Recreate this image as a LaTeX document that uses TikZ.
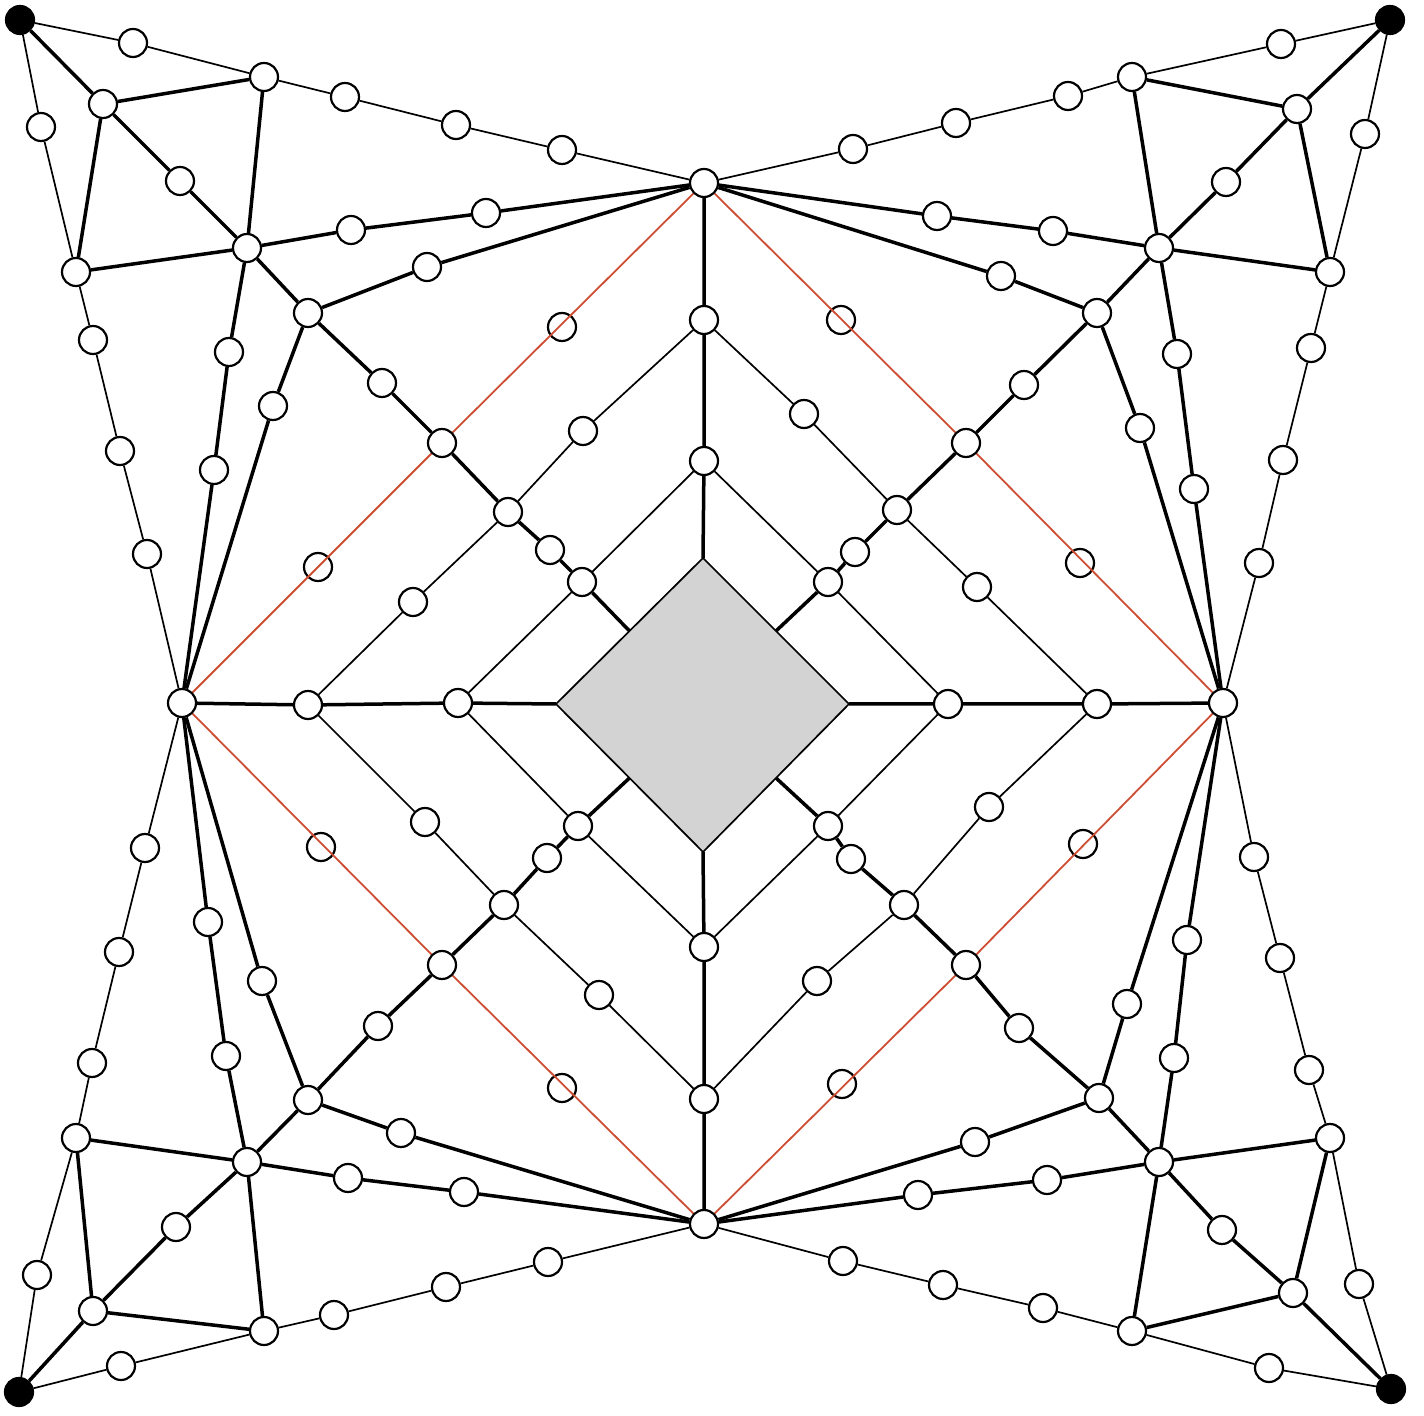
\documentclass[tikz,border=0pt]{standalone}
\usetikzlibrary{calc}
\definecolor{redline}{RGB}{205,78,50}
\definecolor{diamondgray}{RGB}{211,211,211}
\begin{document}
\begin{tikzpicture}[x=0.5pt,y=-0.5pt,
  v/.style={circle,draw=black,fill=white,line width=1.1pt,minimum size=14pt,inner sep=0pt},
  cv/.style={circle,draw=black,fill=black,line width=1.1pt,minimum size=14pt,inner sep=0pt},
  thinedge/.style={line width=0.85pt},
  thickedge/.style={line width=1.75pt},
  rededge/.style={draw=redline,line width=0.9pt}]
\useasboundingbox (0,0) rectangle (1424,1416);

% central diamond
\coordinate (dT) at (703,558);
\coordinate (dR) at (849,704);
\coordinate (dB) at (703,852);
\coordinate (dL) at (556,704);
\coordinate (Mtl) at ($(dL)!0.5!(dT)$);
\coordinate (Mtr) at ($(dT)!0.5!(dR)$);
\coordinate (Mbl) at ($(dL)!0.5!(dB)$);
\coordinate (Mbr) at ($(dB)!0.5!(dR)$);
\filldraw[fill=diamondgray,draw=black,thinedge] (dT) -- (dR) -- (dB) -- (dL) -- cycle;

% axis nodes
\node[v] (T) at (704,183) {};
\node[v] (Bot) at (704,1224) {};
\node[v] (L) at (182,703) {};
\node[v] (R) at (1223,703) {};
\node[v] (vt1) at (704,320) {};
\node[v] (vt2) at (704,461) {};
\node[v] (vb2) at (704,947) {};
\node[v] (vb1) at (704,1099) {};
\node[v] (hl1) at (308,705) {};
\node[v] (hl2) at (458,703) {};
\node[v] (hr2) at (948,704) {};
\node[v] (hr1) at (1097,704) {};

% top-left
\node[cv] (Ctl) at (20,20) {};
\node[v] (a1tl) at (133,43) {};
\node[v] (Atl) at (264,77) {};
\node[v] (Btl) at (103,104) {};
\node[v] (Dtl) at (41,127) {};
\node[v] (Etl) at (76,272) {};
\node[v] (Ftl) at (247,248) {};
\node[v] (Gtl) at (308,313) {};
\node[v] (d1tl) at (180,181) {};
\node[v] (t1tl) at (345,97) {};
\node[v] (t2tl) at (456,125) {};
\node[v] (t3tl) at (562,150) {};
\node[v] (f1tl) at (351,230) {};
\node[v] (f2tl) at (486,213) {};
\node[v] (g1tl) at (427,267) {};
\node[v] (e1tl) at (93,340) {};
\node[v] (e2tl) at (120,451) {};
\node[v] (e3tl) at (147,554) {};
\node[v] (h1tl) at (229,352) {};
\node[v] (h2tl) at (214,470) {};
\node[v] (k1tl) at (273,406) {};
\node[v] (q1tl) at (382,383) {};
\node[v] (Xtl) at (442,443) {};
\node[v] (Ytl) at (508,512) {};
\node[v] (q2tl) at (550,550) {};
\node[v] (Ztl) at (582,582) {};
\node[v] (rHtl) at (318,567) {};
\node[v] (rVtl) at (562,327) {};
\node[v] (oHtl) at (413,602) {};
\node[v] (oVtl) at (583,431) {};

% top-right
\node[cv] (Ctr) at (1390,20) {};
\node[v] (a1tr) at (1281,44) {};
\node[v] (Atr) at (1132,77) {};
\node[v] (Btr) at (1297,109) {};
\node[v] (Dtr) at (1365,134) {};
\node[v] (Etr) at (1330,272) {};
\node[v] (Ftr) at (1159,248) {};
\node[v] (Gtr) at (1097,313) {};
\node[v] (d1tr) at (1226,182) {};
\node[v] (t1tr) at (1068,96) {};
\node[v] (t2tr) at (956,123) {};
\node[v] (t3tr) at (853,149) {};
\node[v] (f1tr) at (1053,231) {};
\node[v] (f2tr) at (937,216) {};
\node[v] (g1tr) at (1001,276) {};
\node[v] (e1tr) at (1311,348) {};
\node[v] (e2tr) at (1283,460) {};
\node[v] (e3tr) at (1259,563) {};
\node[v] (h1tr) at (1177,354) {};
\node[v] (h2tr) at (1194,489) {};
\node[v] (k1tr) at (1140,428) {};
\node[v] (q1tr) at (1024,385) {};
\node[v] (Xtr) at (966,443) {};
\node[v] (Ytr) at (897,510) {};
\node[v] (q2tr) at (855,552) {};
\node[v] (Ztr) at (828,582) {};
\node[v] (rHtr) at (1080,563) {};
\node[v] (rVtr) at (841,320) {};
\node[v] (oHtr) at (977,587) {};
\node[v] (oVtr) at (804,414) {};

% bottom-left
\node[cv] (Cbl) at (19,1392) {};
\node[v] (a1bl) at (121,1366) {};
\node[v] (Abl) at (264,1331) {};
\node[v] (Bbl) at (93,1311) {};
\node[v] (Dbl) at (37,1275) {};
\node[v] (Ebl) at (76,1138) {};
\node[v] (Fbl) at (247,1162) {};
\node[v] (Gbl) at (308,1100) {};
\node[v] (d1bl) at (176,1227) {};
\node[v] (t1bl) at (334,1315) {};
\node[v] (t2bl) at (446,1287) {};
\node[v] (t3bl) at (548,1262) {};
\node[v] (f1bl) at (348,1178) {};
\node[v] (f2bl) at (464,1192) {};
\node[v] (g1bl) at (401,1133) {};
\node[v] (e1bl) at (92,1063) {};
\node[v] (e2bl) at (119,952) {};
\node[v] (e3bl) at (145,848) {};
\node[v] (h1bl) at (226,1056) {};
\node[v] (h2bl) at (208,922) {};
\node[v] (k1bl) at (262,981) {};
\node[v] (q1bl) at (378,1026) {};
\node[v] (Xbl) at (442,965) {};
\node[v] (Ybl) at (504,905) {};
\node[v] (q2bl) at (547,858) {};
\node[v] (Zbl) at (578,826) {};
\node[v] (rHbl) at (321,847) {};
\node[v] (rVbl) at (562,1088) {};
\node[v] (oHbl) at (425,822) {};
\node[v] (oVbl) at (599,995) {};

% bottom-right
\node[cv] (Cbr) at (1391,1389) {};
\node[v] (a1br) at (1269,1368) {};
\node[v] (Abr) at (1132,1331) {};
\node[v] (Bbr) at (1293,1293) {};
\node[v] (Dbr) at (1359,1284) {};
\node[v] (Ebr) at (1330,1138) {};
\node[v] (Fbr) at (1159,1162) {};
\node[v] (Gbr) at (1099,1098) {};
\node[v] (d1br) at (1222,1230) {};
\node[v] (t1br) at (1043,1308) {};
\node[v] (t2br) at (943,1285) {};
\node[v] (t3br) at (843,1261) {};
\node[v] (f1br) at (1047,1180) {};
\node[v] (f2br) at (918,1195) {};
\node[v] (g1br) at (975,1142) {};
\node[v] (e1br) at (1309,1070) {};
\node[v] (e2br) at (1280,958) {};
\node[v] (e3br) at (1254,857) {};
\node[v] (h1br) at (1174,1058) {};
\node[v] (h2br) at (1187,940) {};
\node[v] (k1br) at (1127,1004) {};
\node[v] (q1br) at (1019,1028) {};
\node[v] (Xbr) at (966,965) {};
\node[v] (Ybr) at (904,905) {};
\node[v] (q2br) at (851,859) {};
\node[v] (Zbr) at (828,826) {};
\node[v] (rHbr) at (1083,844) {};
\node[v] (rVbr) at (842,1084) {};
\node[v] (oHbr) at (989,807) {};
\node[v] (oVbr) at (817,981) {};

% axis edges
\draw[thickedge] (T) -- (vt1) -- (vt2) -- (dT);
\draw[thickedge] (Bot) -- (vb1) -- (vb2) -- (dB);
\draw[thickedge] (L) -- (hl1) -- (hl2) -- (dL);
\draw[thickedge] (R) -- (hr1) -- (hr2) -- (dR);

% quadrant edges
\foreach \q/\V/\H/\vo/\vi/\ho/\hi in {tl/T/L/vt1/vt2/hl1/hl2, tr/T/R/vt1/vt2/hr1/hr2, bl/Bot/L/vb1/vb2/hl1/hl2, br/Bot/R/vb1/vb2/hr1/hr2}{
  \draw[thinedge] (C\q) -- (a1\q) -- (A\q) -- (t1\q) -- (t2\q) -- (t3\q) -- (\V);
  \draw[thinedge] (C\q) -- (D\q) -- (E\q) -- (e1\q) -- (e2\q) -- (e3\q) -- (\H);
  \draw[thickedge] (C\q) -- (B\q) -- (d1\q) -- (F\q) -- (G\q) -- (q1\q) -- (X\q) -- (Y\q) -- (q2\q) -- (Z\q) -- (M\q);
  \draw[thickedge] (A\q) -- (B\q) -- (E\q);
  \draw[thickedge] (A\q) -- (F\q) -- (E\q);
  \draw[thickedge] (F\q) -- (f1\q) -- (f2\q) -- (\V);
  \draw[thickedge] (G\q) -- (g1\q) -- (\V);
  \draw[thickedge] (F\q) -- (h1\q) -- (h2\q) -- (\H);
  \draw[thickedge] (G\q) -- (k1\q) -- (\H);
  \draw[thinedge] (\ho) -- (oH\q) -- (Y\q) -- (oV\q) -- (\vo);
  \draw[thinedge] (\hi) -- (Z\q) -- (\vi);
  \draw[rededge] (\H) -- (X\q) -- (\V);
}
\end{tikzpicture}
\end{document}
